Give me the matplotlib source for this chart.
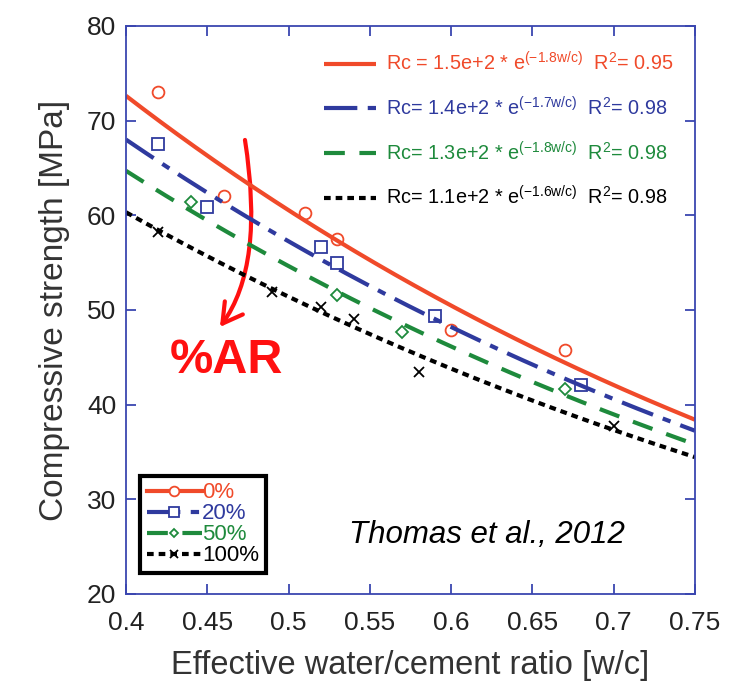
import numpy as np
import matplotlib
matplotlib.use("Agg")
import matplotlib.pyplot as plt
from matplotlib.lines import Line2D
from matplotlib.patches import FancyArrowPatch

plt.rcParams['font.family'] = ['Liberation Sans', 'DejaVu Sans']
plt.rcParams['mathtext.fontset'] = 'custom'
plt.rcParams['mathtext.rm'] = 'Liberation Sans'
plt.rcParams['mathtext.it'] = 'Liberation Sans:italic'

# data
wc0 = [0.42, 0.46, 0.51, 0.53, 0.60, 0.67]
rc0 = [73.0, 62.0, 60.2, 57.5, 47.9, 45.8]
wc20 = [0.42, 0.45, 0.52, 0.53, 0.59, 0.68]
rc20 = [67.5, 60.9, 56.7, 55.0, 49.4, 42.1]
wc50 = [0.44, 0.53, 0.57, 0.67]
rc50 = [61.4, 51.6, 47.7, 41.7]
wc100 = [0.42, 0.49, 0.52, 0.54, 0.58, 0.70]
rc100 = [58.2, 51.9, 50.3, 49.0, 43.4, 37.7]

fitA = [150.4, 135.3, 127.2, 114.4]
fitB = [1.82, 1.72, 1.69, 1.60]
series_labels = ['0%', '20%', '50%', '100%']
eq_labels = [r'Rc = 1.5e+2 * e$^{\mathrm{(-1.8w/c)}}$  R$^{\mathrm{2}}$= 0.95',
             r'Rc= 1.4e+2 * e$^{\mathrm{(-1.7w/c)}}$  R$^{\mathrm{2}}$= 0.98',
             r'Rc= 1.3e+2 * e$^{\mathrm{(-1.8w/c)}}$  R$^{\mathrm{2}}$= 0.98',
             r'Rc= 1.1e+2 * e$^{\mathrm{(-1.6w/c)}}$  R$^{\mathrm{2}}$= 0.98']

colors = ['#f04a2a', '#2f3a9e', '#1e8a3c', '#000000']
styles = ['-', (0, (8, 2.5, 2, 2.5)), (0, (5, 3.5)), (0, (1.6, 1.2))]
markers = ['o', 's', 'D', 'x']
msizes = [8.5, 9, 6, 7]
axcol = '#3a46b0'

fig = plt.figure(figsize=(7.48, 6.87), dpi=100)
ax = fig.add_axes([0.1684, 0.1354, 0.7607, 0.8268])

xs = np.linspace(0.4, 0.75, 200)
pts = [(wc0, rc0), (wc20, rc20), (wc50, rc50), (wc100, rc100)]
fit_handles = []
for i in range(4):
    h, = ax.plot(xs, fitA[i] * np.exp(-fitB[i] * xs), color=colors[i], ls=styles[i], lw=3.0,
                 solid_capstyle='butt', dash_capstyle='butt')
    fit_handles.append(h)
    x, y = pts[i]
    ax.plot(x, y, ls='none', marker=markers[i], ms=msizes[i], mfc='none', mec=colors[i],
            mew=1.3)

ax.set_xlim(0.4, 0.75)
ax.set_ylim(20, 80)
ax.set_xticks(np.arange(0.4, 0.751, 0.05))
ax.set_xticklabels(['0.4', '0.45', '0.5', '0.55', '0.6', '0.65', '0.7', '0.75'])
ax.set_yticks(np.arange(20, 81, 10))
ax.tick_params(direction='in', length=7.5, width=1.3, color=axcol, top=True, right=True,
               labelsize=19, labelcolor='#222222')
ax.tick_params(axis='x', pad=12)
ax.tick_params(axis='y', pad=7)
for s in ax.spines.values():
    s.set_color(axcol)
    s.set_linewidth(1.3)
ax.set_xlabel('Effective water/cement ratio [w/c]', fontsize=23.5, color='#333333', labelpad=11)
ax.set_ylabel('Compressive strength [MPa]', fontsize=24, color='#333333', labelpad=12)

# equation legend
leg1 = ax.legend(fit_handles, eq_labels, loc='upper right', bbox_to_anchor=(0.962, 0.955),
                 frameon=False, fontsize=14.3, handlelength=2.6, handletextpad=0.5,
                 labelspacing=1.08, labelcolor=colors, borderaxespad=0, borderpad=0)
ax.add_artist(leg1)

# series legend
handles = [Line2D([], [], color=colors[i], ls=styles[i], lw=3, marker=markers[i],
                  ms=msizes[i] - 1.5, mfc='white', mec=colors[i], mew=1.3) for i in range(4)]
leg2 = ax.legend(handles, series_labels, loc='lower left', bbox_to_anchor=(0.0246, 0.037),
                 fontsize=16, handlelength=2.5, handletextpad=0.0, labelspacing=0.0,
                 borderpad=0.3, fancybox=False, framealpha=1, edgecolor='black',
                 labelcolor=colors, borderaxespad=0)
leg2.get_frame().set_linewidth(3)

ax.text(0.634, 0.104, 'Thomas et al., 2012', style='italic', fontsize=22.5, ha='center',
        va='center', transform=ax.transAxes)

arrow = FancyArrowPatch((0.4732, 67.96), (0.4578, 48.2),
                        connectionstyle='angle3,angleA=-81,angleB=54',
                        arrowstyle='->,head_length=14,head_width=8', color='#ff1010',
                        lw=3, mutation_scale=1, shrinkA=0, shrinkB=0)
ax.add_patch(arrow)
ax.text(0.4615, 44.7, '%AR', color='#ff1010', fontsize=35, fontweight='bold', ha='center',
        va='center')

fig.savefig('out.png', dpi=100)
